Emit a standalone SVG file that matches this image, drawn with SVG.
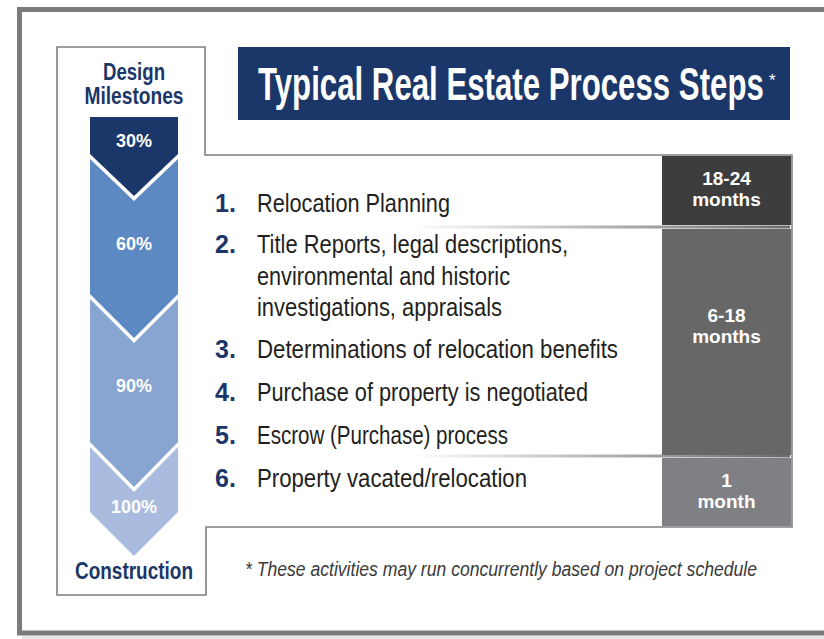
<svg xmlns="http://www.w3.org/2000/svg" width="824" height="639" viewBox="0 0 824 639">
<defs>
<linearGradient id="sep" x1="0" y1="0" x2="1" y2="0">
<stop offset="0" stop-color="#ffffff"/>
<stop offset="1" stop-color="#6a6a6a"/>
</linearGradient>
<style>
.sans{font-family:"Liberation Sans",Arial,sans-serif}
.lbl{font-family:"Liberation Sans",Arial,sans-serif;font-weight:bold;fill:#1b3668;font-size:23px;text-anchor:middle}
.pct{font-family:"Liberation Sans",Arial,sans-serif;font-weight:bold;fill:#ffffff;font-size:18px;text-anchor:middle}
.num{font-family:"Liberation Sans",Arial,sans-serif;font-weight:bold;fill:#1b3668;font-size:25px}
.item{font-family:"Liberation Sans",Arial,sans-serif;fill:#231f20;font-size:26px}
.dur{font-family:"Liberation Sans",Arial,sans-serif;font-weight:bold;fill:#ffffff;font-size:19px;text-anchor:middle}
.note{font-family:"Liberation Sans",Arial,sans-serif;font-style:italic;fill:#3a3a3a;font-size:20px}
</style>
</defs>
<rect x="0" y="0" width="824" height="639" fill="#ffffff"/>
<g id="frame">
<rect x="19.5" y="9.5" width="830" height="623.5" fill="none" stroke="#7b7b7b" stroke-width="5"/>
<line x1="22" y1="637.5" x2="824" y2="637.5" stroke="#dcdcdc" stroke-width="2"/>
<path d="M57,47 H205 V155 H792 V527 H206 V595 H57 Z" fill="none" stroke="#808080" stroke-width="1.6"/>
</g>
<g id="title">
<rect x="238" y="47" width="552" height="73" fill="#1b3668"/>
<text class="sans" transform="translate(258,100) scale(0.6,1)" x="0" y="0" font-size="47" font-weight="bold" fill="#ffffff" textLength="843" lengthAdjust="spacingAndGlyphs">Typical Real Estate Process Steps</text>
<text class="sans" x="769" y="86" font-size="17" fill="#ffffff">*</text>
</g>
<g id="milestones">
<text class="lbl" x="134" y="80" textLength="62" lengthAdjust="spacingAndGlyphs">Design</text>
<text class="lbl" x="134" y="104" textLength="99" lengthAdjust="spacingAndGlyphs">Milestones</text>
<g id="m30">
<polygon points="90,117 178,117 178,154 134,196 90,154" fill="#1b3668"/>
<text class="pct" x="134" y="147">30%</text>
</g>
<g id="m60">
<polygon points="90,159 134,201 178,159 178,294 134,338 90,294" fill="#5d89c2"/>
<text class="pct" x="134" y="250">60%</text>
</g>
<g id="m90">
<polygon points="90,299 134,343 178,299 178,442 134,487 90,442" fill="#88a4d1"/>
<text class="pct" x="134" y="392">90%</text>
</g>
<g id="m100">
<polygon points="90,447 134,492 178,447 178,512 134,556 90,512" fill="#a9bcdf"/>
<text class="pct" x="134" y="513">100%</text>
</g>
<text class="lbl" x="134" y="579" textLength="118" lengthAdjust="spacingAndGlyphs">Construction</text>
</g>
<g id="separators">
<rect x="410" y="225.5" width="380" height="3" fill="url(#sep)"/>
<rect x="413" y="454.5" width="377" height="3" fill="url(#sep)"/>
</g>
<g id="steps">
<g id="step1">
<text class="num" x="215" y="212">1.</text>
<text class="item" x="257" y="212" textLength="193" lengthAdjust="spacingAndGlyphs">Relocation Planning</text>
</g>
<g id="step2">
<text class="num" x="215" y="253">2.</text>
<text class="item" x="257" y="253" textLength="311" lengthAdjust="spacingAndGlyphs">Title Reports, legal descriptions,</text>
<text class="item" x="257" y="285" textLength="253" lengthAdjust="spacingAndGlyphs">environmental and historic</text>
<text class="item" x="257" y="316" textLength="245" lengthAdjust="spacingAndGlyphs">investigations, appraisals</text>
</g>
<g id="step3">
<text class="num" x="215" y="358">3.</text>
<text class="item" x="257" y="358" textLength="361" lengthAdjust="spacingAndGlyphs">Determinations of relocation benefits</text>
</g>
<g id="step4">
<text class="num" x="215" y="401">4.</text>
<text class="item" x="257" y="401" textLength="331" lengthAdjust="spacingAndGlyphs">Purchase of property is negotiated</text>
</g>
<g id="step5">
<text class="num" x="215" y="444">5.</text>
<text class="item" x="257" y="444" textLength="251" lengthAdjust="spacingAndGlyphs">Escrow (Purchase) process</text>
</g>
<g id="step6">
<text class="num" x="215" y="487">6.</text>
<text class="item" x="257" y="487" textLength="270" lengthAdjust="spacingAndGlyphs">Property vacated/relocation</text>
</g>
</g>
<g id="durations">
<g id="d1">
<rect x="662" y="156" width="129" height="69" fill="#3d3d3d"/>
<text class="dur" x="726.5" y="185">18-24</text>
<text class="dur" x="726.5" y="206">months</text>
</g>
<g id="d2">
<rect x="662" y="229" width="129" height="226" fill="#676767"/>
<text class="dur" x="726.5" y="322">6-18</text>
<text class="dur" x="726.5" y="343">months</text>
</g>
<g id="d3">
<rect x="662" y="458" width="129" height="68" fill="#7f8083"/>
<text class="dur" x="726.5" y="487">1</text>
<text class="dur" x="726.5" y="508">month</text>
</g>
</g>
<text id="footnote" class="note" transform="translate(245,576) scale(0.8,1)" x="0" y="0" textLength="640" lengthAdjust="spacingAndGlyphs">* These activities may run concurrently based on project schedule</text>
</svg>
